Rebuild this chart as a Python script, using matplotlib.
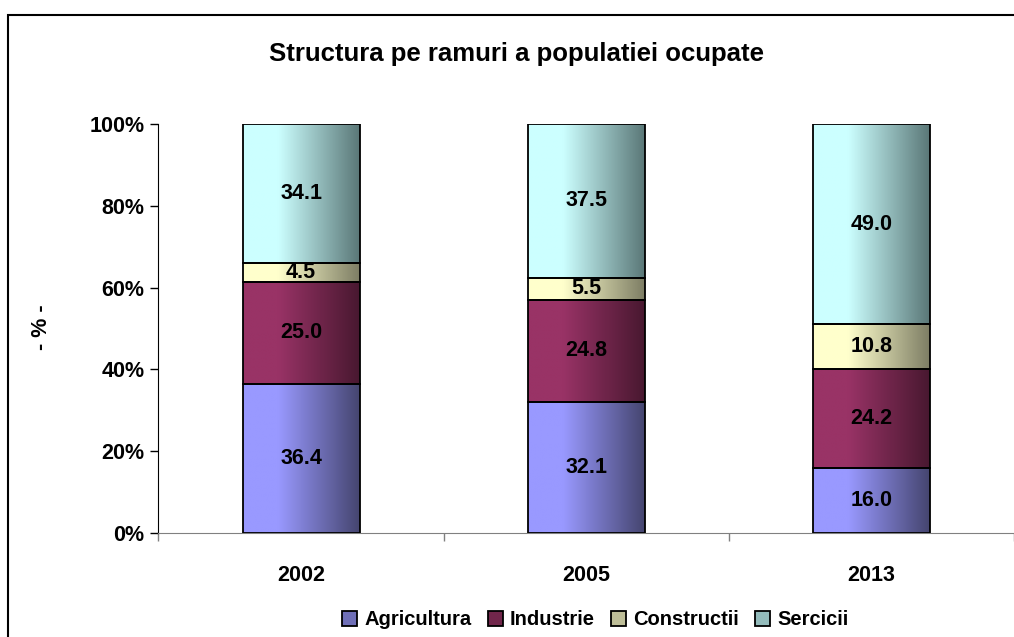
import matplotlib
matplotlib.use("Agg")
import matplotlib.pyplot as plt
import numpy as np
from matplotlib.colors import LinearSegmentedColormap, to_rgb
from matplotlib.patches import Rectangle

plt.rcParams['font.family'] = ['Liberation Sans', 'DejaVu Sans']
plt.rcParams['font.weight'] = 'bold'

# Data
years = ['2002', '2005', '2013']
agricultura = [36.4, 32.1, 16.0]
industrie = [25.0, 24.8, 24.2]
constructii = [4.5, 5.5, 10.8]
servicii = [34.1, 37.5, 49.0]
series_names = ['Agricultura', 'Industrie', 'Constructii', 'Sercicii']
series = [agricultura, industrie, constructii, servicii]

# light (left) -> dark (right) gradient colours, Excel style
grad_colors = [('#9999FF', '#45456F'),
               ('#993366', '#481830'),
               ('#FFFFCC', '#7D7D64'),
               ('#CCFFFF', '#5A7777')]

fig = plt.figure(figsize=(10.14, 6.37), dpi=100)
ax = fig.add_axes([0.1563, 0.1633, 0.8437, 0.642])

x = np.arange(len(years))
totals = np.sum(series, axis=0)
bottom = np.zeros(len(years))
width = 0.41
grad = np.linspace(0, 1, 256).reshape(1, -1)

for vals, name, (c0, c1) in zip(series, series_names, grad_colors):
    pct = np.array(vals) / totals * 100
    bars = ax.bar(x, pct, width, bottom=bottom, facecolor='none',
                  edgecolor='black', linewidth=1.3, zorder=3, label=name)
    cmap = LinearSegmentedColormap.from_list(name, [(0, c0), (0.3, c0), (1, c1)])
    for b, v in zip(bars, vals):
        x0, y0 = b.get_x(), b.get_y()
        im = ax.imshow(grad, extent=[x0, x0 + b.get_width(), y0, y0 + b.get_height()],
                       aspect='auto', cmap=cmap, zorder=2, interpolation='bilinear')
        im.set_clip_path(b)
        ax.text(x0 + b.get_width() / 2, y0 + b.get_height() / 2, f'{v:.1f}',
                ha='center', va='center', fontsize=15.5, fontweight='bold', zorder=4)
    bottom += pct

ax.set_xlim(-0.5, 2.5)
ax.set_ylim(0, 100)
ax.set_yticks(np.arange(0, 101, 20))
ax.set_yticklabels([f'{v}%' for v in range(0, 101, 20)], fontsize=15.5, fontweight='bold')
ax.tick_params(axis='y', direction='out', length=6, width=1, pad=4)

# category separators as major ticks, year labels as minor ticks
ax.set_xticks([-0.5, 0.5, 1.5, 2.5])
ax.set_xticklabels([])
ax.set_xticks(x, minor=True)
ax.set_xticklabels(years, minor=True, fontsize=15.5, fontweight='bold')
ax.tick_params(axis='x', which='major', direction='out', length=6, width=1, color='#808080')
ax.tick_params(axis='x', which='minor', length=0, pad=23)

ax.spines['top'].set_visible(False)
ax.spines['right'].set_visible(False)
ax.spines['bottom'].set_color('#808080')
ax.spines['left'].set_color('black')

fig.text(0.509, 0.916, 'Structura pe ramuri a populatiei ocupate',
         ha='center', va='center', fontsize=18.5, fontweight='bold')
fig.text(0.0414, 0.4867, '- % -', rotation=90, ha='center', va='center',
         fontsize=15.5, fontweight='bold')

handles = [Rectangle((0, 0), 1, 1,
                     facecolor=tuple((np.array(to_rgb(c0)) + np.array(to_rgb(c1))) / 2),
                     edgecolor='black', linewidth=1.3) for c0, c1 in grad_colors]
fig.legend(handles, series_names, loc='center', bbox_to_anchor=(0.587, 0.027),
           ncol=4, frameon=False, handlelength=0.75, handleheight=0.75,
           handletextpad=0.35, columnspacing=0.8,
           prop={'size': 14.5, 'weight': 'bold'})

fig.patches.append(Rectangle((0.0079, -0.1), 1.2, 1.0765, transform=fig.transFigure,
                             fill=False, edgecolor='black', linewidth=1.5))

fig.savefig('out.png', dpi=100)
